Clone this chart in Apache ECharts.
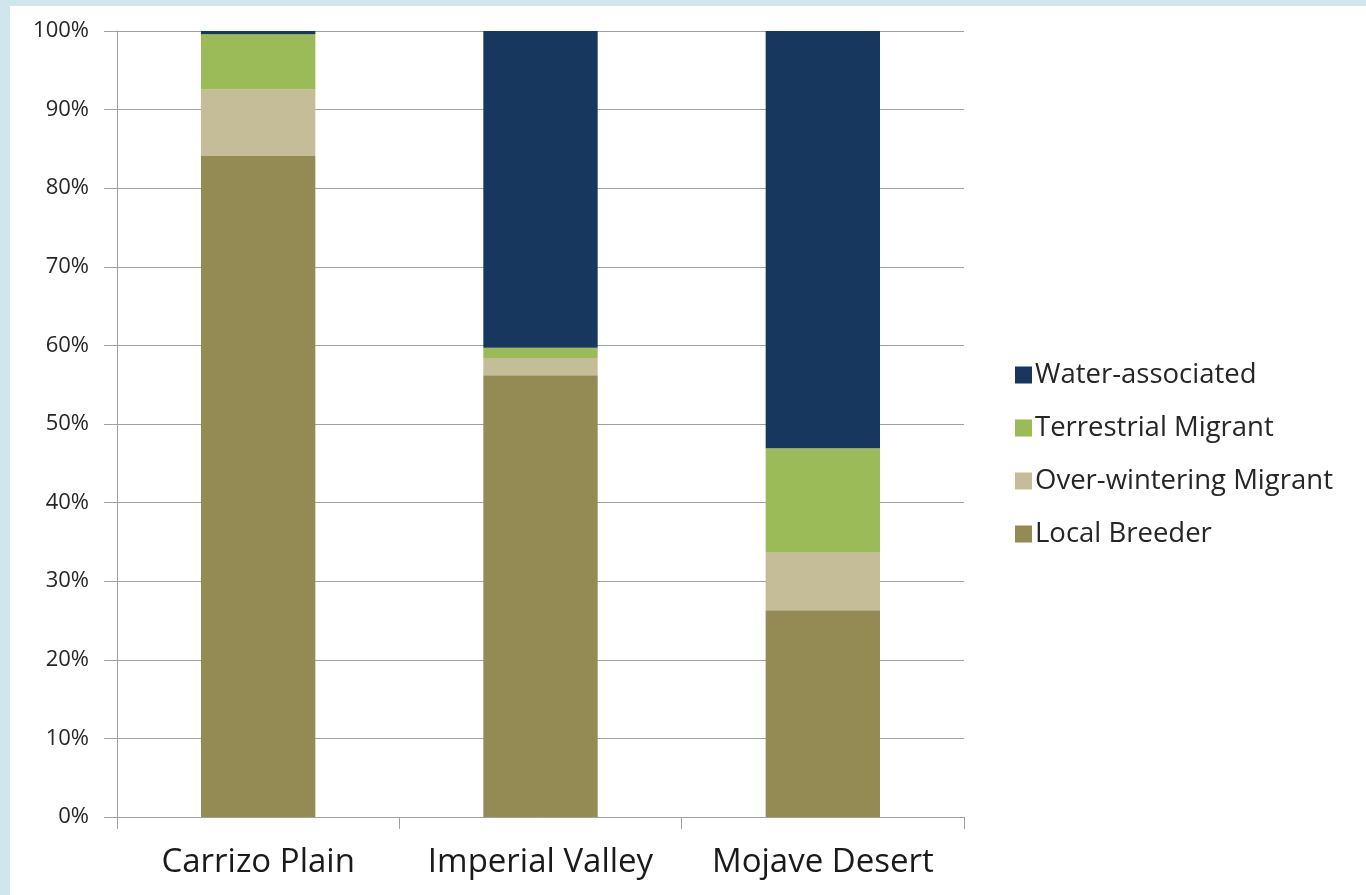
<!DOCTYPE html>
<html><head><meta charset="utf-8">
<script src="https://cdn.jsdelivr.net/npm/echarts@6/dist/echarts.min.js"></script>
<style>
html,body{margin:0;padding:0;background:#cfe6ea;}
#frame{position:absolute;left:10px;top:6px;width:1356px;height:889px;background:#fff;}
#chart{position:absolute;left:-10px;top:-6px;width:1366px;height:895px;}
</style></head>
<body><div id="frame"><div id="chart"></div></div>
<script>
const categories = ['Carrizo Plain', 'Imperial Valley', 'Mojave Desert'];
const localBreeder = [84.1, 56.2, 26.3];
const overWintering = [8.5, 2.2, 7.4];
const terrestrial = [7.0, 1.3, 13.2];
const water = [0.4, 40.3, 53.1];
const yTicks = [0, 10, 20, 30, 40, 50, 60, 70, 80, 90, 100];
const seriesNames = ['Local Breeder', 'Over-wintering Migrant', 'Terrestrial Migrant', 'Water-associated'];
const colors = ['#948A54', '#C4BD97', '#9BBB59', '#17375E'];

const chart = echarts.init(document.getElementById('chart'));
const font = '"Open Sans", sans-serif';
const dataSets = [localBreeder, overWintering, terrestrial, water];
chart.setOption({
  animation: false,
  textStyle: {fontFamily: font},
  grid: {left: 117, right: 402, top: 31, bottom: 78},
  legend: {
    orient: 'vertical', left: 1010, top: 356,
    data: seriesNames.slice().reverse(),
    icon: 'rect', itemWidth: 17, itemHeight: 17, itemGap: 25,
    textStyle: {fontSize: 27.5, color: '#262626', fontFamily: font, padding: [0, 0, 0, -2]}
  },
  xAxis: {
    type: 'category', data: categories,
    axisLine: {lineStyle: {color: '#a0a0a0'}},
    axisTick: {show: true, length: 12, lineStyle: {color: '#a0a0a0'}},
    axisLabel: {interval: 0, fontSize: 33, color: '#1a1a1a', margin: 29}
  },
  yAxis: {
    type: 'value', min: 0, max: 100, interval: 10,
    axisLine: {show: true, lineStyle: {color: '#a0a0a0'}},
    axisTick: {show: true, length: 13, lineStyle: {color: '#a0a0a0'}},
    splitLine: {lineStyle: {color: '#a0a0a0'}},
    axisLabel: {fontSize: 22, color: '#262626', margin: 28,
      formatter: v => yTicks.includes(v) ? v + '%' : ''}
  },
  series: dataSets.map((d, i) => ({
    name: seriesNames[i], type: 'bar', stack: 'total', data: d,
    barWidth: '40.5%', itemStyle: {color: colors[i]}
  }))
});
</script></body></html>
